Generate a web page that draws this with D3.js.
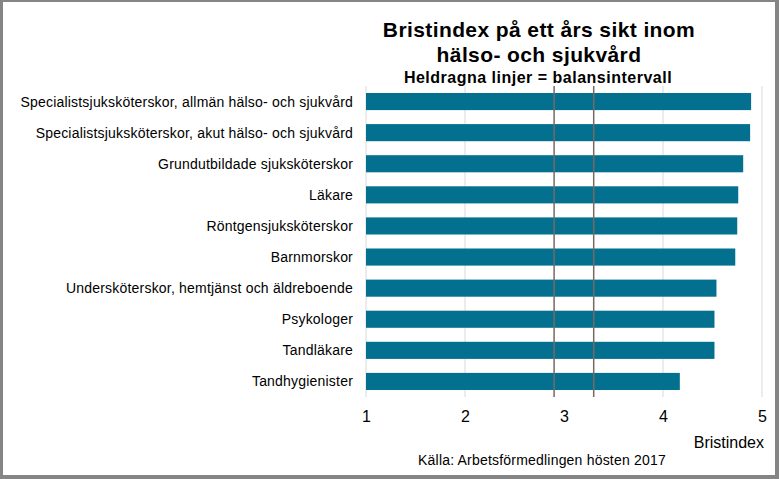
<!DOCTYPE html>
<html><head><meta charset="utf-8">
<script src="https://cdn.jsdelivr.net/npm/d3@7"></script>
<style>html,body{margin:0;padding:0;background:#fff}svg{display:block}text{font-family:"Liberation Sans",Arial,sans-serif}</style>
</head><body>
<script>
const categories = [
  "Specialistsjuksköterskor, allmän hälso- och sjukvård",
  "Specialistsjuksköterskor, akut hälso- och sjukvård",
  "Grundutbildade sjuksköterskor",
  "Läkare",
  "Röntgensjuksköterskor",
  "Barnmorskor",
  "Undersköterskor, hemtjänst och äldreboende",
  "Psykologer",
  "Tandläkare",
  "Tandhygienister"
];
const values = [4.89, 4.88, 4.81, 4.76, 4.75, 4.73, 4.54, 4.52, 4.52, 4.17];
const xTicks = [1, 2, 3, 4, 5];
const balanceLines = [2.9, 3.3];
const titleLines = ["Bristindex på ett års sikt inom", "hälso- och sjukvård"];
const subtitle = "Heldragna linjer = balansintervall";
const axisTitle = "Bristindex";
const source = "Källa: Arbetsförmedlingen hösten 2017";

const W = 779, H = 479;
const svg = d3.select("body").append("svg").attr("width", W).attr("height", H);
svg.append("rect").attr("width", W).attr("height", H).attr("fill", "#858585");
svg.append("rect").attr("x", 3).attr("y", 2).attr("width", W - 3 - 4).attr("height", H - 2 - 4).attr("fill", "#fff");

const x = d3.scaleLinear().domain([1, 5]).range([366, 762]);
const y = d3.scaleBand().domain(categories).range([86, 397]).paddingInner(0.45).paddingOuter(0.225);

// gridlines
svg.append("g").selectAll("line").data(xTicks.filter(t => t !== 3)).join("line")
  .attr("x1", d => x(d)).attr("x2", d => x(d)).attr("y1", 86).attr("y2", 397)
  .attr("stroke", "#d9d9d9").attr("stroke-width", 1);

// bars
svg.append("g").selectAll("rect").data(values).join("rect")
  .attr("x", x(1)).attr("y", (d, i) => y(categories[i]))
  .attr("width", d => x(d) - x(1)).attr("height", y.bandwidth())
  .attr("fill", "#04708f");

// balance lines
svg.append("g").selectAll("line").data(balanceLines).join("line")
  .attr("x1", d => x(d)).attr("x2", d => x(d)).attr("y1", 86).attr("y2", 397)
  .attr("stroke", "#766a62").attr("stroke-width", 1.5);

// category labels
svg.append("g").selectAll("text").data(categories).join("text")
  .attr("x", 353).attr("y", d => y(d) + y.bandwidth() / 2 + 5)
  .attr("text-anchor", "end").attr("font-size", 14).attr("letter-spacing", 0.2)
  .attr("fill", "#000").text(d => d);

// x axis
const ax = svg.append("g").attr("transform", "translate(0,397)")
  .call(d3.axisBottom(x).tickValues(xTicks).tickSize(0).tickPadding(14).tickFormat(d3.format("d")));
ax.select(".domain").remove();
ax.selectAll("text").attr("font-size", 16).attr("fill", "#000").attr("font-family", "Liberation Sans, Arial, sans-serif");

svg.append("text").attr("x", 764).attr("y", 448).attr("text-anchor", "end")
  .attr("font-size", 16).text(axisTitle);
svg.append("text").attr("x", 542).attr("y", 465).attr("text-anchor", "middle")
  .attr("font-size", 14).attr("letter-spacing", 0.2).text(source);

// title
svg.append("g").selectAll("text").data(titleLines).join("text")
  .attr("x", 539).attr("y", (d, i) => 37 + i * 25)
  .attr("text-anchor", "middle").attr("font-size", 21).attr("letter-spacing", 0.4)
  .attr("font-weight", "bold").text(d => d);
svg.append("text").attr("x", 538).attr("y", 83).attr("text-anchor", "middle")
  .attr("font-size", 16).attr("letter-spacing", 0.5).attr("font-weight", "bold").text(subtitle);
</script>
</body></html>
